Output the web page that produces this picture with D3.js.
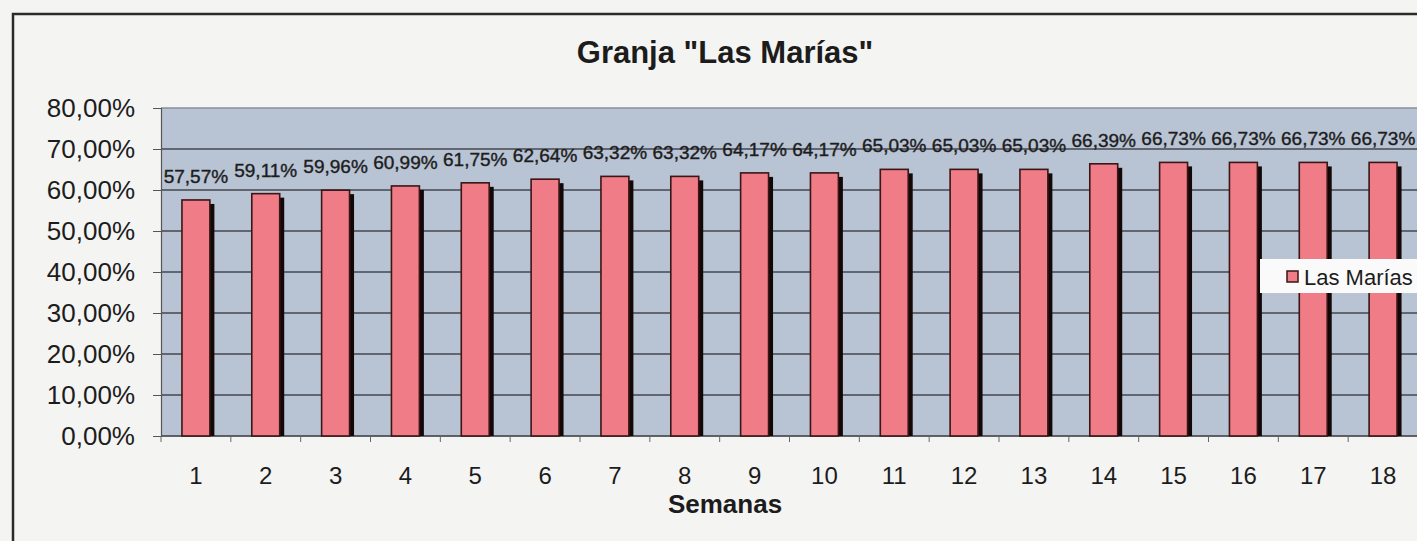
<!DOCTYPE html>
<html><head><meta charset="utf-8">
<script src="https://cdn.jsdelivr.net/npm/d3@7"></script>
<style>
html,body{margin:0;padding:0;background:#f4f4f3;}
text{font-family:Arial,"Liberation Sans",sans-serif;fill:#1c1c1c;}
</style></head>
<body>
<svg id="c" width="1417" height="541"></svg>
<script>
const weeks = ["1","2","3","4","5","6","7","8","9","10","11","12","13","14","15","16","17","18"];
const values = [57.57,59.11,59.96,60.99,61.75,62.64,63.32,63.32,64.17,64.17,65.03,65.03,65.03,66.39,66.73,66.73,66.73,66.73];
const yTicks = [0,10,20,30,40,50,60,70,80];
const seriesName = "Las Marías";
const title = "Granja \"Las Marías\"";
const xTitle = "Semanas";

const fmt = v => v.toFixed(2).replace(".", ",") + "%";

const svg = d3.select("#c");
const pL = 161, pR = 1418, pT = 108, pB = 436;

// outer chart border
svg.append("path").attr("d", `M13,541 L13,14 L1417,14`).attr("fill","none")
  .attr("stroke","#2a2a2a").attr("stroke-width",2.5);

const x = d3.scaleBand().domain(weeks).range([pL, pR]).paddingInner(0.6).paddingOuter(0.3);
const y = d3.scaleLinear().domain([0, 80]).range([pB, pT]);

// plot background
svg.append("rect").attr("x", pL).attr("y", pT).attr("width", pR-pL).attr("height", pB-pT)
  .attr("fill", "#b8c3d4");

// gridlines
svg.append("g").selectAll("line").data(yTicks).join("line")
  .attr("x1", pL).attr("x2", pR).attr("y1", d=>y(d)).attr("y2", d=>y(d))
  .attr("stroke", d => d===80 ? "#8a8f98" : "#44474f").attr("stroke-width", 1.3);

// y axis
const yAxis = d3.axisLeft(y).tickValues(yTicks).tickSize(8).tickPadding(18).tickFormat(d => fmt(d));
const ga = svg.append("g").attr("transform", `translate(${pL},0)`).call(yAxis);
ga.select(".domain").attr("stroke", "#555").attr("stroke-width", 1.2);
ga.selectAll(".tick line").attr("stroke", "#555");
ga.selectAll("text").attr("font-size", 26).attr("fill", "#262626").attr("font-family","Arial, 'Liberation Sans', sans-serif");

// x axis
const step = x.step();
const xb = svg.append("g").attr("transform", `translate(0,${pB})`);
xb.append("line").attr("x1", pL).attr("x2", pR).attr("stroke", "#555").attr("stroke-width", 1.2);
xb.selectAll("line.t").data(d3.range(weeks.length + 1)).join("line").attr("class","t")
  .attr("x1", i => pL + i*step).attr("x2", i => pL + i*step).attr("y1", 0).attr("y2", 6)
  .attr("stroke", "#666");
xb.selectAll("text").data(weeks).join("text")
  .attr("x", d => x(d) + x.bandwidth()/2).attr("y", 48).attr("text-anchor","middle")
  .attr("font-size", 24).attr("fill","#262626").text(d => d);

// shadows
svg.append("g").selectAll("rect").data(values).join("rect")
  .attr("x", (d,i) => x(weeks[i]) + 4.5).attr("y", d => y(d) + 4)
  .attr("width", x.bandwidth()).attr("height", d => pB - y(d) - 4)
  .attr("fill", "#120808");

// bars
svg.append("g").selectAll("rect").data(values).join("rect")
  .attr("x", (d,i) => x(weeks[i])).attr("y", d => y(d))
  .attr("width", x.bandwidth()).attr("height", d => pB - y(d))
  .attr("fill", "#ef7c86").attr("stroke", "#3a1616").attr("stroke-width", 1.6);

// data labels
svg.append("g").selectAll("text").data(values).join("text")
  .attr("x", (d,i) => x(weeks[i]) + x.bandwidth()/2).attr("y", d => y(d) - 17)
  .attr("text-anchor","middle").attr("font-size", 19).attr("fill","#222")
  .attr("stroke", "#222").attr("stroke-width", 0.4)
  .text(d => fmt(d));

// titles
svg.append("text").attr("x", 725).attr("y", 63).attr("text-anchor","middle")
  .attr("font-size", 31).attr("font-weight","bold").text(title);
svg.append("text").attr("x", 725).attr("y", 513).attr("text-anchor","middle")
  .attr("font-size", 26).attr("font-weight","bold").text(xTitle);

// legend
const lg = svg.append("g");
lg.append("rect").attr("x", 1260).attr("y", 259).attr("width", 170).attr("height", 34).attr("fill", "#fafafa");
lg.append("rect").attr("x", 1287).attr("y", 271).attr("width", 11).attr("height", 11)
  .attr("fill", "#ef7c86").attr("stroke", "#3a1616").attr("stroke-width", 1.5);
lg.append("text").attr("x", 1304).attr("y", 285).attr("font-size", 22).attr("fill","#262626").text(seriesName);
</script>
</body></html>
